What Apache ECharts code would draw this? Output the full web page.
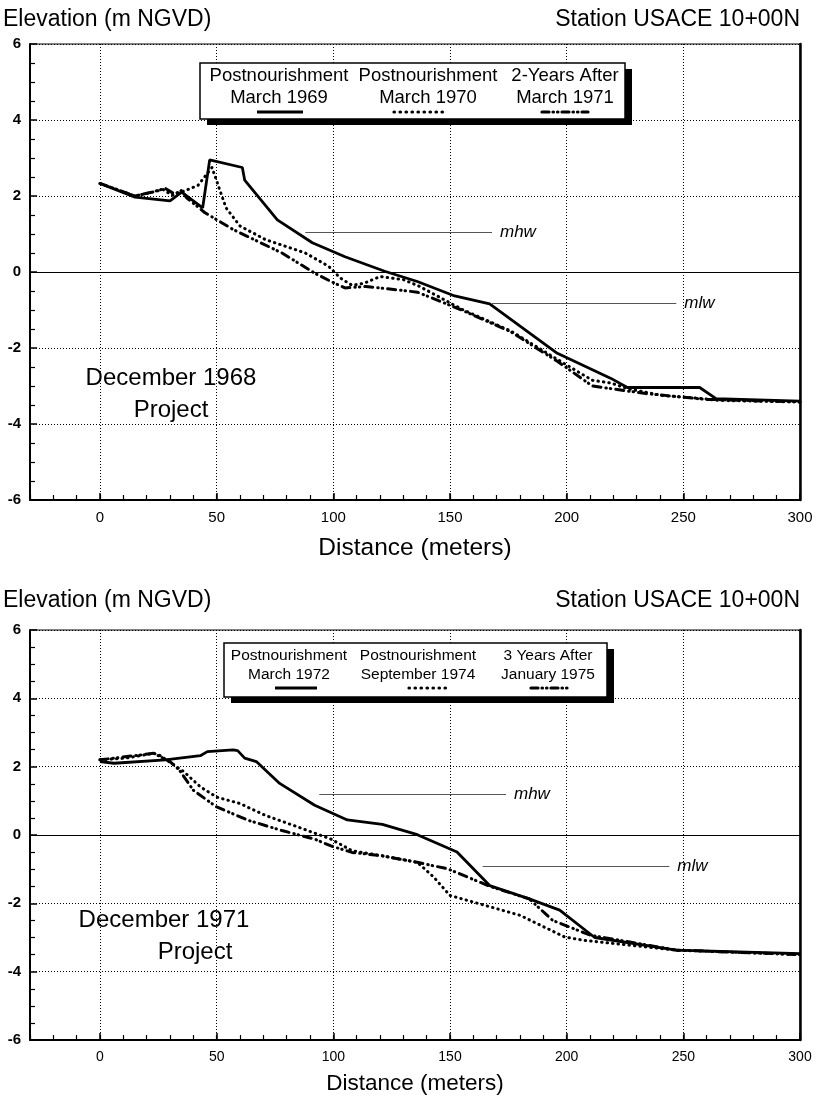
<!DOCTYPE html>
<html>
<head>
<meta charset="utf-8">
<script src="https://cdn.jsdelivr.net/npm/echarts@6/dist/echarts.min.js"></script>
<style>
  html, body { margin: 0; padding: 0; background: #fff; }
  #main { width: 818px; height: 1096px; }
</style>
</head>
<body>
<div id="main"></div>
<script>
// profile data, distance (m) / elevation (m NGVD)
var xTicks = [0, 50, 100, 150, 200, 250, 300];

// top panel: December 1968 project
var mar69_x = [0, 15, 30, 35, 44, 47, 61, 62, 76, 91, 105, 122, 136, 152, 167, 196, 219, 226, 257, 264, 300];
var mar69_y = [2.33, 1.97, 1.87, 2.1, 1.69, 2.95, 2.75, 2.42, 1.37, 0.77, 0.4, 0.02, -0.25, -0.63, -0.84, -2.14, -2.8, -3.04, -3.04, -3.33, -3.4];
var mar70_x = [0, 15, 21, 27, 31, 36, 42, 48, 54, 60, 71, 88, 98, 103, 108, 113, 120, 130, 137, 155, 176, 196, 211, 219, 226, 241, 258, 265, 300];
var mar70_y = [2.33, 2.0, 2.08, 2.17, 2.02, 2.13, 2.28, 2.75, 1.69, 1.21, 0.85, 0.5, 0.15, -0.16, -0.35, -0.3, -0.12, -0.2, -0.38, -0.98, -1.55, -2.3, -2.85, -2.92, -3.07, -3.25, -3.33, -3.38, -3.42];
var mar71_x = [0, 15, 22, 28, 32, 35, 37, 45, 57, 78, 92, 99, 105, 114, 120, 136, 155, 176, 196, 211, 219, 234, 259, 300];
var mar71_y = [2.33, 2.0, 2.1, 2.2, 2.05, 2.15, 1.96, 1.56, 1.12, 0.5, -0.03, -0.25, -0.42, -0.38, -0.42, -0.53, -1.0, -1.57, -2.35, -3.0, -3.07, -3.2, -3.35, -3.42];
var mhw68 = [88, 168, 1.05];
var mlw68 = [168, 247, -0.82];

// bottom panel: December 1971 project
var mar72_x = [0, 6, 28, 43, 46, 57, 59, 62, 67, 77, 92, 106, 121, 136, 153, 167, 184, 197, 212, 247, 300];
var mar72_y = [2.15, 2.1, 2.2, 2.32, 2.44, 2.49, 2.47, 2.25, 2.15, 1.51, 0.87, 0.44, 0.31, 0.01, -0.5, -1.48, -1.87, -2.2, -3.0, -3.37, -3.47];
var sep74_x = [0, 11, 23, 26, 28, 36, 43, 50, 60, 71, 85, 99, 108, 121, 136, 143, 150, 165, 180, 199, 207, 247, 300];
var sep74_y = [2.2, 2.25, 2.39, 2.32, 2.22, 1.85, 1.41, 1.11, 0.92, 0.57, 0.23, -0.12, -0.46, -0.61, -0.8, -1.23, -1.77, -2.06, -2.35, -2.98, -3.08, -3.37, -3.5];
var jan75_x = [0, 23, 30, 34, 40, 50, 64, 78, 92, 99, 108, 121, 136, 149, 167, 184, 194, 210, 247, 300];
var jan75_y = [2.2, 2.39, 2.15, 1.9, 1.31, 0.82, 0.42, 0.13, -0.12, -0.32, -0.51, -0.61, -0.8, -0.99, -1.5, -1.87, -2.5, -2.93, -3.37, -3.5];
var mhw71 = [94, 174, 1.18];
var mlw71 = [164, 244, -0.91];

var FONT = '"Liberation Sans", Arial, sans-serif';

function pairs(xs, ys) {
    var out = [];
    for (var i = 0; i < xs.length; i++) out.push([xs[i], ys[i]]);
    return out;
}

var solidStyle = { color: '#000', width: 2.8, type: 'solid' };
var dotStyle = { color: '#000', width: 3, type: [0.5, 5], cap: 'round' };
var dashDotStyle = { color: '#000', width: 3, type: [8, 5, 0.5, 4, 0.5, 5], cap: 'round' };

function levelLine(spec, text) {
    return [
        { coord: [spec[0], spec[2]], lineStyle: { color: '#555', width: 1, type: 'solid' },
          label: { show: true, position: 'end', formatter: text, fontStyle: 'italic', fontSize: 17, color: '#000', fontFamily: FONT, distance: 8 } },
        { coord: [spec[1], spec[2]] }
    ];
}

function profile(name, xs, ys, style, idx, marks) {
    var s = {
        name: name, type: 'line', xAxisIndex: idx * 2, yAxisIndex: idx * 2,
        data: pairs(xs, ys), symbol: 'none', lineStyle: style, silent: true, z: 5
    };
    if (marks) {
        s.markLine = {
            silent: true, symbol: 'none',
            label: { show: false },
            data: [{ yAxis: 0, lineStyle: { color: '#000', width: 1, type: 'solid' }, label: { show: false } }].concat(marks)
        };
    }
    return s;
}

function xAxes(gridIndex, labelSize, nameSize, nameGap) {
    return [{
        type: 'value', gridIndex: gridIndex, min: -30, max: 300, position: 'bottom',
        name: 'Distance (meters)', nameLocation: 'middle', nameGap: nameGap,
        nameTextStyle: { fontSize: nameSize, color: '#000', fontFamily: FONT },
        axisLine: { onZero: false, lineStyle: { color: '#000', width: 2 } },
        axisTick: { inside: true, length: 7, customValues: xTicks, lineStyle: { color: '#000', width: 1.5 } },
        axisLabel: { customValues: xTicks, fontSize: labelSize, color: '#000', fontFamily: FONT, margin: 10 },
        splitLine: { show: true, lineStyle: { color: '#000', width: 1, type: [1, 2] } }
    }, {
        type: 'value', gridIndex: gridIndex, min: -30, max: 300, interval: 10, position: 'bottom',
        axisLine: { show: false, onZero: false },
        axisTick: { inside: true, length: 5, lineStyle: { color: '#000', width: 1.2 } },
        axisLabel: { show: false }, splitLine: { show: false }
    }];
}

function yAxes(gridIndex) {
    return [{
        type: 'value', gridIndex: gridIndex, min: -6, max: 6, interval: 2, position: 'left',
        axisLine: { onZero: false, lineStyle: { color: '#000', width: 2 } },
        axisTick: { inside: true, length: 7, lineStyle: { color: '#000', width: 1.5 } },
        minorTick: { show: true, splitNumber: 4, length: 5, lineStyle: { color: '#000', width: 1.2 } },
        axisLabel: { fontSize: 15, fontWeight: 'bold', color: '#000', fontFamily: FONT, margin: 9 },
        splitLine: { show: true, lineStyle: { color: '#000', width: 1, type: [1, 2] } }
    }, {
        type: 'value', gridIndex: gridIndex, min: -6, max: 6, interval: 2, position: 'right',
        axisLine: { show: true, onZero: false, lineStyle: { color: '#000', width: 2.5 } },
        axisTick: { show: false }, axisLabel: { show: false }, splitLine: { show: false }
    }];
}

function legendBox(box, cols, fontSize) {
    var g = [];
    g.push({ type: 'rect', shape: { x: box.x + 7, y: box.y + 6, width: box.w, height: box.h }, style: { fill: '#000' }, z: 100 });
    g.push({ type: 'rect', shape: { x: box.x, y: box.y, width: box.w, height: box.h }, style: { fill: '#fff', stroke: '#000', lineWidth: 1.5 }, z: 101 });
    cols.forEach(function (c) {
        g.push({ type: 'text', x: c.c, y: box.y + box.r1, style: { text: c.t1, fontSize: fontSize, fontFamily: FONT, fill: '#000', align: 'center', verticalAlign: 'middle' }, z: 102 });
        g.push({ type: 'text', x: c.c, y: box.y + box.r2, style: { text: c.t2, fontSize: fontSize, fontFamily: FONT, fill: '#000', align: 'center', verticalAlign: 'middle' }, z: 102 });
        g.push({ type: 'line', shape: { x1: c.lc - c.lw / 2, y1: box.y + box.ly, x2: c.lc + c.lw / 2, y2: box.y + box.ly },
                 style: { stroke: '#000', lineWidth: 3.2, lineDash: c.dash, lineCap: c.dash ? 'round' : 'butt' }, z: 102 });
    });
    return g;
}

var chart = echarts.init(document.getElementById('main'), null, { renderer: 'canvas' });

var titleStyle = { fontSize: 23, fontWeight: 'normal', color: '#000', fontFamily: FONT };

var option = {
    backgroundColor: '#fff',
    animation: false,
    title: [
        { text: 'Elevation (m NGVD)', left: 3, top: 8, textStyle: titleStyle, padding: 0 },
        { text: 'Station USACE 10+00N', right: 18, top: 8, textStyle: titleStyle, padding: 0 },
        { text: 'Elevation (m NGVD)', left: 3, top: 589, textStyle: titleStyle, padding: 0 },
        { text: 'Station USACE 10+00N', right: 18, top: 589, textStyle: titleStyle, padding: 0 }
    ],
    grid: [
        { left: 30, top: 44, width: 770, height: 456, show: true, borderColor: '#000', borderWidth: 1 },
        { left: 30, top: 630, width: 770, height: 414, show: true, borderColor: '#000', borderWidth: 1 }
    ],
    xAxis: xAxes(0, 15, 24.5, 36).concat(xAxes(1, 14, 22.5, 32)),
    yAxis: yAxes(0).concat(yAxes(1)),
    series: [
        profile('March 1969', mar69_x, mar69_y, solidStyle, 0, [levelLine(mhw68, 'mhw'), levelLine(mlw68, 'mlw')]),
        profile('March 1970', mar70_x, mar70_y, dotStyle, 0),
        profile('March 1971', mar71_x, mar71_y, dashDotStyle, 0),
        profile('March 1972', mar72_x, mar72_y, solidStyle, 1, [levelLine(mhw71, 'mhw'), levelLine(mlw71, 'mlw')]),
        profile('September 1974', sep74_x, sep74_y, dotStyle, 1),
        profile('January 1975', jan75_x, jan75_y, dashDotStyle, 1)
    ],
    graphic: [].concat(
        legendBox({ x: 200, y: 63, w: 425, h: 56, r1: 13, r2: 35, ly: 49 }, [
            { t1: 'Postnourishment', t2: 'March 1969', c: 279, lc: 280, lw: 46 },
            { t1: 'Postnourishment', t2: 'March 1970', c: 428, lc: 420, lw: 52, dash: [0.5, 5.5] },
            { t1: '2-Years After', t2: 'March 1971', c: 565, lc: 565, lw: 46, dash: [7, 4, 0.5, 4, 0.5, 4] }
        ], 18.5),
        legendBox({ x: 224, y: 643, w: 383, h: 54, r1: 13, r2: 32, ly: 45 }, [
            { t1: 'Postnourishment', t2: 'March 1972', c: 289, lc: 296, lw: 42 },
            { t1: 'Postnourishment', t2: 'September 1974', c: 418, lc: 428, lw: 38, dash: [0.5, 5.5] },
            { t1: '3 Years After', t2: 'January 1975', c: 548, lc: 551, lw: 40, dash: [7, 4, 0.5, 4, 0.5, 4] }
        ], 15.5),
        [
            { type: 'text', x: 171, y: 378, style: { text: 'December 1968', font: '24px ' + FONT, fill: '#000', align: 'center', verticalAlign: 'middle' }, z: 50 },
            { type: 'text', x: 171, y: 410, style: { text: 'Project', font: '24px ' + FONT, fill: '#000', align: 'center', verticalAlign: 'middle' }, z: 50 },
            { type: 'text', x: 164, y: 920, style: { text: 'December 1971', font: '24px ' + FONT, fill: '#000', align: 'center', verticalAlign: 'middle' }, z: 50 },
            { type: 'text', x: 195, y: 952, style: { text: 'Project', font: '24px ' + FONT, fill: '#000', align: 'center', verticalAlign: 'middle' }, z: 50 }
        ]
    )
};

chart.setOption(option);
</script>
</body>
</html>
